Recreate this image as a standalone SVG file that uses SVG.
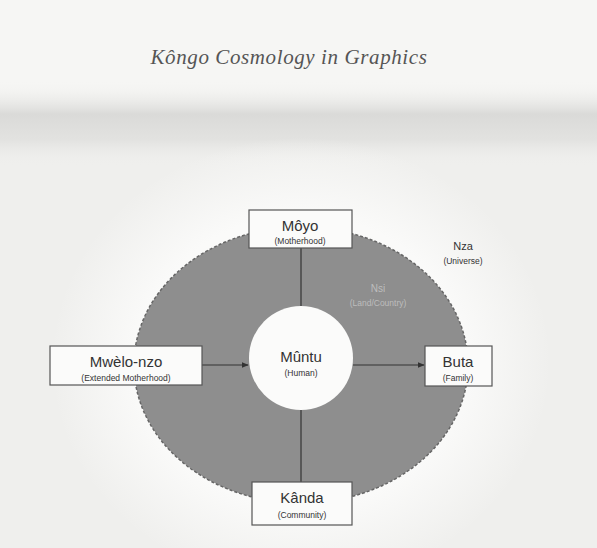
<svg xmlns="http://www.w3.org/2000/svg" width="597" height="548" viewBox="0 0 597 548">
<defs>
<linearGradient id="band" x1="0" y1="0" x2="0" y2="1">
<stop offset="0" stop-color="#f6f6f4" stop-opacity="0"/>
<stop offset="0.4" stop-color="#dadad8"/>
<stop offset="0.7" stop-color="#e2e2e0"/>
<stop offset="1" stop-color="#eeeeec" stop-opacity="0"/>
</linearGradient>
<radialGradient id="halo" cx="0.5" cy="0.5" r="0.5">
<stop offset="0.65" stop-color="#fafaf9"/>
<stop offset="1" stop-color="#fafaf9" stop-opacity="0"/>
</radialGradient>
<marker id="ah" viewBox="0 0 10 10" refX="9" refY="5" markerWidth="6" markerHeight="6" orient="auto">
<path d="M0,1 L10,5 L0,9 z" fill="#333"/>
</marker>
<style>
.box{fill:#fbfbfa;stroke:#555;stroke-width:1.2}
.t{font-family:"Liberation Sans",Arial,sans-serif;fill:#333;text-anchor:middle}
.big{font-size:15px}
.sm{font-size:8.5px}
.ln{stroke:#333;stroke-width:1.2;fill:none}
</style>
</defs>
<rect width="597" height="548" fill="#f6f6f4"/>
<rect x="0" y="140" width="597" height="408" fill="#efefed"/>
<rect x="0" y="80" width="597" height="85" fill="url(#band)"/>
<ellipse cx="301" cy="362" rx="250" ry="225" fill="url(#halo)"/>
<text x="289" y="64" font-family="'Liberation Serif',serif" font-style="italic" font-size="21" letter-spacing="0.6" fill="#555" text-anchor="middle">Kôngo Cosmology in Graphics</text>
<g id="nsi">
<ellipse cx="301" cy="365" rx="167" ry="138" fill="#8e8e8e" stroke="#666" stroke-width="1.5" stroke-dasharray="3 2"/>
<text class="t" x="378" y="292" font-size="10" style="fill:#bdbdbd">Nsi</text>
<text class="t sm" x="378" y="306" style="fill:#bdbdbd">(Land/Country)</text>
</g>
<g id="connectors">
<line class="ln" x1="301" y1="248" x2="301" y2="306"/>
<line class="ln" x1="202" y1="365" x2="248" y2="365" marker-end="url(#ah)"/>
<line class="ln" x1="353" y1="365" x2="424" y2="365" marker-end="url(#ah)"/>
<line class="ln" x1="301" y1="410" x2="301" y2="482"/>
</g>
<g id="muntu">
<circle cx="301" cy="358" r="52" fill="#fbfbfa"/>
<text class="t big" x="301" y="362">Mûntu</text>
<text class="t sm" x="301" y="376">(Human)</text>
</g>
<g id="moyo">
<rect class="box" x="249" y="210" width="103" height="38"/>
<text class="t big" x="300" y="231">Môyo</text>
<text class="t sm" x="300" y="244">(Motherhood)</text>
</g>
<g id="mwelo-nzo">
<rect class="box" x="50" y="346" width="152" height="39"/>
<text class="t big" x="126" y="367">Mwèlo-nzo</text>
<text class="t sm" x="126" y="381">(Extended Motherhood)</text>
</g>
<g id="buta">
<rect class="box" x="425" y="346" width="67" height="40"/>
<text class="t big" x="458" y="367">Buta</text>
<text class="t sm" x="458" y="381">(Family)</text>
</g>
<g id="kanda">
<rect class="box" x="252" y="482" width="100" height="43"/>
<text class="t big" x="302" y="503">Kânda</text>
<text class="t sm" x="302" y="518">(Community)</text>
</g>
<g id="nza">
<text class="t" x="463" y="250" font-size="11">Nza</text>
<text class="t sm" x="463" y="264">(Universe)</text>
</g>
</svg>
